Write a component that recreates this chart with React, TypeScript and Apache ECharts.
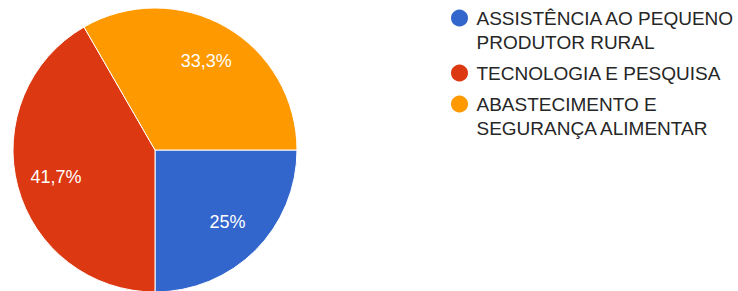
import React, { useEffect, useRef } from "react";
import * as echarts from "echarts";

const categories = [
  "ASSISTÊNCIA AO PEQUENO PRODUTOR RURAL",
  "TECNOLOGIA E PESQUISA",
  "ABASTECIMENTO E SEGURANÇA ALIMENTAR",
];
const legendLines = [
  ["ASSISTÊNCIA AO PEQUENO", "PRODUTOR RURAL"],
  ["TECNOLOGIA E PESQUISA"],
  ["ABASTECIMENTO E", "SEGURANÇA ALIMENTAR"],
];
const values = [3, 5, 4];
const percentLabels = ["25%", "41,7%", "33,3%"];
const colors = ["#3366cc", "#dc3912", "#ff9900"];

const FONT = "'Liberation Sans', Arial, sans-serif";

export default function App() {
  const ref = useRef<HTMLDivElement>(null);
  useEffect(() => {
    if (!ref.current) return;
    const chart = echarts.init(ref.current, null, { renderer: "svg" });
    const R = 142;
    const center = [155, 150];
    const LH = 24;
    const legendCenters = [18, 73, 104];
    const data = categories.map((name, i) => ({
      name,
      value: values[i],
      itemStyle: { color: colors[i] },
    }));
    const legends = categories.map((name, i) => {
      const lines = legendLines[i];
      // leading blank line so the first text line sits level with the icon
      const text = lines.length > 1 ? [" ", ...lines].join("\n") : lines[0];
      const half = lines.length > 1 ? LH * 1.5 : LH / 2;
      return {
        orient: "vertical",
        left: 449,
        top: legendCenters[i] - half,
        padding: 0,
        itemWidth: 24,
        itemHeight: 19,
        icon: "circle",
        selectedMode: false,
        data: [name],
        formatter: () => text,
        textStyle: {
          fontFamily: FONT,
          fontSize: 19,
          lineHeight: LH,
          color: "#262626",
        },
      };
    });
    chart.setOption({
      animation: false,
      backgroundColor: "#ffffff",
      legend: legends,
      series: [
        {
          type: "pie",
          center,
          radius: [0, R],
          startAngle: 0,
          clockwise: true,
          silent: true,
          label: { show: false },
          labelLine: { show: false },
          itemStyle: { borderColor: "#ffffff", borderWidth: 1 },
          data,
        },
        {
          type: "pie",
          center,
          radius: [R * 0.4, R],
          startAngle: 0,
          clockwise: true,
          silent: true,
          legendHoverLink: false,
          itemStyle: { color: "transparent", borderWidth: 0 },
          label: {
            show: true,
            position: "inside",
            fontFamily: FONT,
            fontSize: 18,
            color: "#ffffff",
            formatter: (p: any) => percentLabels[p.dataIndex],
          },
          labelLine: { show: false },
          data: categories.map((name, i) => ({ name, value: values[i] })),
        },
      ],
    });
    return () => chart.dispose();
  }, []);
  return <div ref={ref} style={{ width: 738, height: 291, position: "absolute", left: 0, top: 0 }} />;
}
